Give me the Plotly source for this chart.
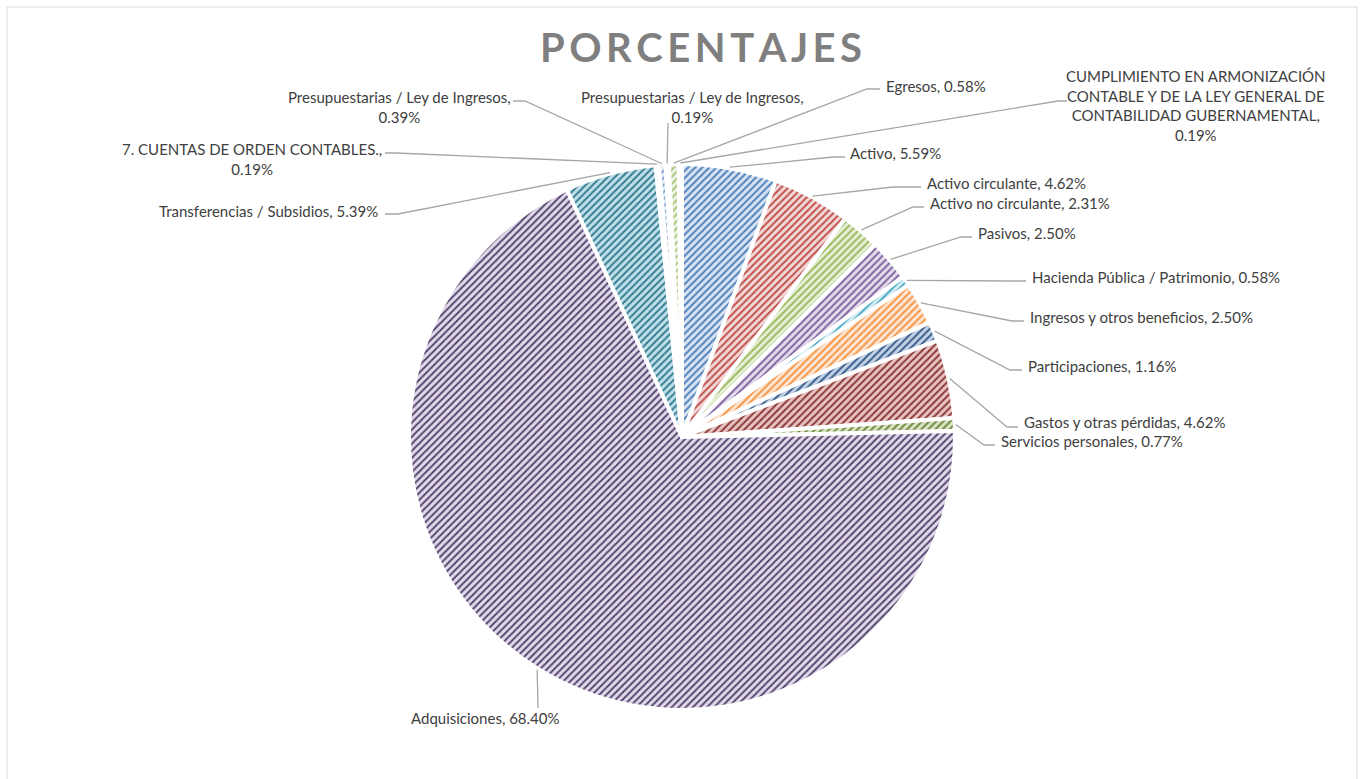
import plotly.graph_objects as go
import math

# ---------------- data ----------------
categories = [
    "Activo", "Activo circulante", "Activo no circulante", "Pasivos",
    "Hacienda Pública / Patrimonio", "Ingresos y otros beneficios",
    "Participaciones", "Gastos y otras pérdidas", "Servicios personales",
    "Adquisiciones", "Transferencias / Subsidios",
    "7. CUENTAS DE ORDEN CONTABLES.", "Presupuestarias / Ley de Ingresos",
    "Presupuestarias / Ley de Ingresos", "Egresos",
    "CUMPLIMIENTO EN ARMONIZACIÓN CONTABLE Y DE LA LEY GENERAL DE CONTABILIDAD GUBERNAMENTAL",
]
percentages = [5.59, 4.62, 2.31, 2.50, 0.58, 2.50, 1.16, 4.62, 0.77,
               68.40, 5.39, 0.19, 0.39, 0.19, 0.58, 0.19]
label_texts = [
    "Activo, 5.59%", "Activo circulante, 4.62%", "Activo no circulante, 2.31%",
    "Pasivos, 2.50%", "Hacienda Pública / Patrimonio, 0.58%",
    "Ingresos y otros beneficios, 2.50%", "Participaciones, 1.16%",
    "Gastos y otras pérdidas, 4.62%", "Servicios personales, 0.77%",
    "Adquisiciones, 68.40%", "Transferencias / Subsidios, 5.39%",
    "7. CUENTAS DE ORDEN CONTABLES.,<br>0.19%",
    "Presupuestarias / Ley de Ingresos,<br>0.39%",
    "Presupuestarias / Ley de Ingresos,<br>0.19%",
    "Egresos, 0.58%",
    "CUMPLIMIENTO EN ARMONIZACIÓN<br>CONTABLE Y DE LA LEY GENERAL DE<br>CONTABILIDAD GUBERNAMENTAL,<br>0.19%",
]
title_text = "PORCENTAJES"

# ---------------- styles ----------------
fg_colors = ["#4F81BD", "#C0504D", "#9BBB59", "#8064A2", "#4BACC6", "#F79646",
             "#385D8A", "#8C3836", "#71893F", "#57456F", "#357D91", "#B66D31",
             "#7F9FCF", "#D08482", "#A9C57A", "#A592BE"]
bg_colors = ["#D9E3F1", "#F2D8D7", "#E7EFDA", "#E3DDEB", "#D7EDF3", "#FDE6D3",
             "#C3D3E7", "#E7C4C3", "#D8E3C4", "#E0DAEA", "#C0E0E9", "#F8D9BE",
             "#E8EEF8", "#F6E4E4", "#EFF5E6", "#EEE9F4"]

W, H = 1360, 779
CX, CY, R = 682, 437, 273

def px(x):
    return x / W

def py(y):
    return 1 - y / H

# label placement (pixels): annotation x, y, anchor, leader-line points after slice
label_layout = [
    (848, 153, "left",   [(833, 157), (845, 157)]),
    (925, 183, "left",   [(893, 187), (921, 187)]),
    (928, 203, "left",   [(913, 207), (924, 207)]),
    (976, 233, "left",   [(961, 237), (972, 237)]),
    (1030, 277, "left",  [(1012, 281), (1026, 281)]),
    (1028, 317, "left",  [(1012, 321), (1024, 321)]),
    (1026, 366, "left",  [(1010, 370), (1022, 370)]),
    (1022, 422, "left",  [(1007, 427), (1018, 427)]),
    (999, 441, "left",   [(984, 445), (995, 445)]),
    (485, 718, "center", [(538, 708)]),
    (380, 211, "right",  [(398, 214), (385, 214)]),
    (252, 159, "center", [(396, 153), (385, 153)]),
    (399, 107, "center", [(525, 101), (513, 101)]),
    (692, 107, "center", [(668, 123)]),
    (884, 86, "left",    [(867, 89), (880, 89)]),
    (1196, 106, "center", [(1058, 101), (1067, 101)]),
]

fig = go.Figure()
fig.add_trace(go.Pie(
    labels=[f"{i}. {c}" for i, c in enumerate(categories)],
    values=percentages,
    sort=False,
    direction="clockwise",
    rotation=0,
    textinfo="none",
    hoverinfo="label+percent",
    showlegend=False,
    domain=dict(x=[px(CX - R), px(CX + R)], y=[py(CY + R), py(CY - R)]),
    marker=dict(
        colors=bg_colors,
        line=dict(color="white", width=4),
        pattern=dict(shape="/", fgcolor=fg_colors, bgcolor=bg_colors,
                     size=5, solidity=0.4, fillmode="replace"),
    ),
))

total = sum(percentages)
shapes = []
annotations = []
cum = 0.0
for val, txt, (lx, ly, anc, pts) in zip(percentages, label_texts, label_layout):
    mid = 2 * math.pi * (cum + val / 2) / total
    cum += val
    ax = CX + (R + 1) * math.sin(mid)
    ay = CY - (R + 1) * math.cos(mid)
    path = f"M {px(ax)},{py(ay)}"
    for (x, y) in pts:
        path += f" L {px(x)},{py(y)}"
    shapes.append(dict(type="path", path=path, xref="paper", yref="paper",
                       line=dict(color="#A6A6A6", width=1.3)))
    annotations.append(dict(
        text=txt, x=px(lx), y=py(ly), xref="paper", yref="paper",
        xanchor=anc, yanchor="middle", align="center", showarrow=False,
        font=dict(family="Lato, sans-serif", size=15, color="#404040"),
    ))

gap = "<span style='font-size:27px'>\u2006</span>"
annotations.append(dict(
    text=gap.join(title_text), x=px(701), y=py(47), xref="paper", yref="paper",
    xanchor="center", yanchor="middle", showarrow=False,
    font=dict(family="Lato, sans-serif", size=40, color="#7F7F7F", weight="bold"),
))

shapes.append(dict(type="rect", xref="paper", yref="paper",
                   x0=px(7), x1=px(1357), y0=py(800), y1=py(7),
                   line=dict(color="#D9D9D9", width=1), fillcolor="rgba(0,0,0,0)",
                   layer="below"))

fig.update_layout(
    width=W, height=H,
    margin=dict(l=0, r=0, t=0, b=0),
    paper_bgcolor="white", plot_bgcolor="white",
    shapes=shapes, annotations=annotations,
)
fig.write_html("out.html")
